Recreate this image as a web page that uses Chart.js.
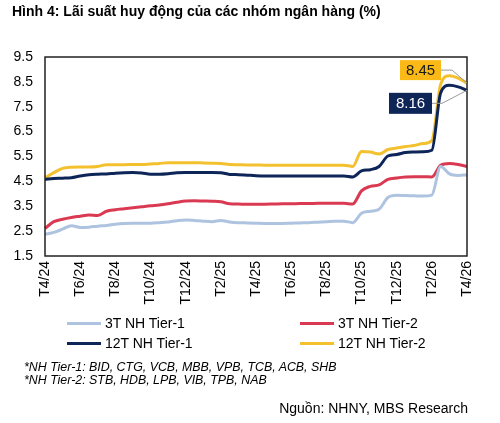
<!DOCTYPE html>
<html>
<head>
<meta charset="utf-8">
<script src="https://cdn.jsdelivr.net/npm/chart.js@4.4.1/dist/chart.umd.min.js"></script>
<style>
  html, body { margin:0; padding:0; background:#fff; }
  body { width:500px; height:423px; position:relative; overflow:hidden; font-family:"Liberation Sans", Arial, sans-serif; color:#000; }
  #wrap { position:absolute; left:0; top:0; width:500px; height:423px; }
  .title { position:absolute; left:12px; top:2px; font-weight:bold; font-size:14px; line-height:18px; white-space:nowrap; }
  .leg { position:absolute; font-size:14px; line-height:16px; white-space:nowrap; }
  .leg i { display:inline-block; width:34px; height:3px; vertical-align:middle; margin-right:4px; position:relative; top:-1px; }
  .note { position:absolute; left:24px; font-size:12.4px; font-style:italic; line-height:13px; white-space:nowrap; }
  .src { position:absolute; right:32px; top:399px; font-size:14px; line-height:18px; white-space:nowrap; }
</style>
</head>
<body>
<div id="wrap"><canvas id="c" width="500" height="423"></canvas></div>
<div class="title">Hình 4: Lãi suất huy động của các nhóm ngân hàng (%)</div>
<div class="leg" style="left:67px;top:315px"><i style="background:#AEC3DF"></i>3T NH Tier-1</div>
<div class="leg" style="left:300px;top:315px"><i style="background:#D93A52"></i>3T NH Tier-2</div>
<div class="leg" style="left:67px;top:335px"><i style="background:#0E2558"></i>12T NH Tier-1</div>
<div class="leg" style="left:300px;top:335px"><i style="background:#F3C12E"></i>12T NH Tier-2</div>
<div class="note" style="top:361px">*NH Tier-1: BID, CTG, VCB, MBB, VPB, TCB, ACB, SHB</div>
<div class="note" style="top:374px">*NH Tier-2: STB, HDB, LPB, VIB, TPB, NAB</div>
<div class="src">Nguồn: NHNY, MBS Research</div>
<script>
// Month labels (T = tháng), data sampled twice per month
const months = ['T4/24','T5/24','T6/24','T7/24','T8/24','T9/24','T10/24','T11/24','T12/24','T1/25','T2/25','T3/25','T4/25','T5/25','T6/25','T7/25','T8/25','T9/25','T10/25','T11/25','T12/25','T1/26','T2/26','T3/26','T4/26'];
const tickLabels = ['T4/24','T6/24','T8/24','T10/24','T12/24','T2/25','T4/25','T6/25','T8/25','T10/25','T12/25','T2/26','T4/26'];
const yTicks = [1.5, 2.5, 3.5, 4.5, 5.5, 6.5, 7.5, 8.5, 9.5];

const tier1_3m = [2.37,2.45,2.58,2.72,2.65,2.66,2.70,2.73,2.78,2.81,2.82,2.82,2.82,2.84,2.87,2.92,2.95,2.93,2.90,2.88,2.93,2.87,2.84,2.83,2.82,2.81,2.81,2.81,2.82,2.83,2.84,2.86,2.88,2.90,2.90,2.84,3.22,3.30,3.38,3.85,3.94,3.93,3.92,3.91,3.95,5.10,4.80,4.74,4.76];
const tier2_3m = [2.61,2.88,2.98,3.05,3.10,3.15,3.13,3.30,3.36,3.40,3.44,3.48,3.52,3.55,3.60,3.66,3.71,3.72,3.71,3.70,3.68,3.60,3.59,3.58,3.58,3.58,3.59,3.60,3.60,3.61,3.61,3.62,3.62,3.62,3.62,3.59,4.12,4.30,4.36,4.58,4.64,4.68,4.69,4.69,4.68,5.15,5.22,5.18,5.10];
const tier1_12m = [4.58,4.62,4.63,4.65,4.72,4.77,4.79,4.80,4.83,4.85,4.86,4.84,4.79,4.79,4.81,4.85,4.86,4.86,4.86,4.86,4.85,4.78,4.77,4.75,4.73,4.72,4.72,4.72,4.72,4.72,4.72,4.72,4.72,4.72,4.72,4.68,4.92,4.97,5.10,5.52,5.58,5.66,5.68,5.69,5.75,8.05,8.36,8.30,8.16];
const tier2_12m = [4.64,4.85,5.02,5.07,5.08,5.08,5.10,5.17,5.17,5.17,5.18,5.18,5.20,5.22,5.25,5.25,5.25,5.25,5.24,5.23,5.22,5.18,5.17,5.16,5.16,5.15,5.15,5.15,5.15,5.15,5.15,5.15,5.15,5.15,5.15,5.10,5.70,5.68,5.60,5.78,5.84,5.90,5.94,6.02,6.14,8.40,8.75,8.65,8.45];

const endLabels = [
  { series: 3, text: '8.45', bg: '#FBB917', fg: '#1a1a1a' },
  { series: 2, text: '8.16', bg: '#0E2558', fg: '#ffffff' }
];

// categories: start and middle of every month
const categories = [];
months.forEach((m, i) => { categories.push(m); if (i < months.length - 1) categories.push(m + ' (15)'); });

const boxPlugin = {
  id: 'frame',
  afterDatasetsDraw(chart) {
    const ctx = chart.ctx, a = chart.chartArea;
    ctx.save();
    ctx.strokeStyle = '#222';
    ctx.lineWidth = 1.5;
    ctx.strokeRect(a.left, a.top, a.right - a.left, a.bottom - a.top);
    // end-value labels
    const geo = [
      { dx: -26, dy: -13, w: 41, h: 20, knee: 11 },
      { dx: -35, dy: 13, w: 43, h: 21, knee: 10 }
    ];
    endLabels.forEach((lab, k) => {
      const meta = chart.getDatasetMeta(lab.series);
      const pt = meta.data[meta.data.length - 1];
      const g = geo[k];
      const bx2 = pt.x + g.dx, by = pt.y + g.dy;
      ctx.strokeStyle = '#9a9a9a';
      ctx.lineWidth = 1;
      ctx.beginPath();
      ctx.moveTo(bx2, by);
      ctx.lineTo(bx2 + g.knee, by);
      ctx.lineTo(pt.x, pt.y);
      ctx.stroke();
      ctx.fillStyle = lab.bg;
      ctx.fillRect(bx2 - g.w, by - g.h / 2, g.w, g.h);
      ctx.fillStyle = lab.fg;
      ctx.font = '15px "Liberation Sans", Arial, sans-serif';
      ctx.textAlign = 'center';
      ctx.textBaseline = 'middle';
      ctx.fillText(lab.text, bx2 - g.w / 2, by + 1);
    });
    ctx.restore();
  }
};

const series = [
  { label: '3T NH Tier-1', data: tier1_3m, borderColor: '#AEC3DF' },
  { label: '3T NH Tier-2', data: tier2_3m, borderColor: '#D93A52' },
  { label: '12T NH Tier-1', data: tier1_12m, borderColor: '#0E2558' },
  { label: '12T NH Tier-2', data: tier2_12m, borderColor: '#F3C12E' }
];

new Chart(document.getElementById('c'), {
  type: 'line',
  data: {
    labels: categories,
    datasets: series.map(s => Object.assign({ borderWidth: 3, pointRadius: 0, fill: false, cubicInterpolationMode: 'monotone' }, s))
  },
  options: {
    responsive: false,
    animation: false,
    devicePixelRatio: 1,
    layout: { padding: { left: 0, right: 33, top: 57, bottom: 107 } },
    plugins: { legend: { display: false }, tooltip: { enabled: false } },
    scales: {
      x: {
        type: 'category',
        offset: false,
        grid: { display: false, drawTicks: false },
        border: { display: false },
        ticks: {
          autoSkip: false,
          maxRotation: 90,
          minRotation: 90,
          padding: 5,
          color: '#000',
          font: { size: 14, family: '"Liberation Sans", Arial, sans-serif' },
          callback: function (v, i) { return i % 4 === 0 ? tickLabels[i / 4] : null; }
        },
        afterFit(scale) { scale.height = 60; }
      },
      y: {
        min: 1.5,
        max: 9.5,
        grid: { display: false, drawTicks: false },
        border: { display: false },
        afterBuildTicks(scale) { scale.ticks = yTicks.map(v => ({ value: v })); },
        ticks: {
          padding: 12,
          color: '#000',
          font: { size: 14, family: '"Liberation Sans", Arial, sans-serif' },
          callback: v => v.toFixed(1)
        },
        afterFit(scale) { scale.width = 45; }
      }
    }
  },
  plugins: [boxPlugin]
});
</script>
</body>
</html>
